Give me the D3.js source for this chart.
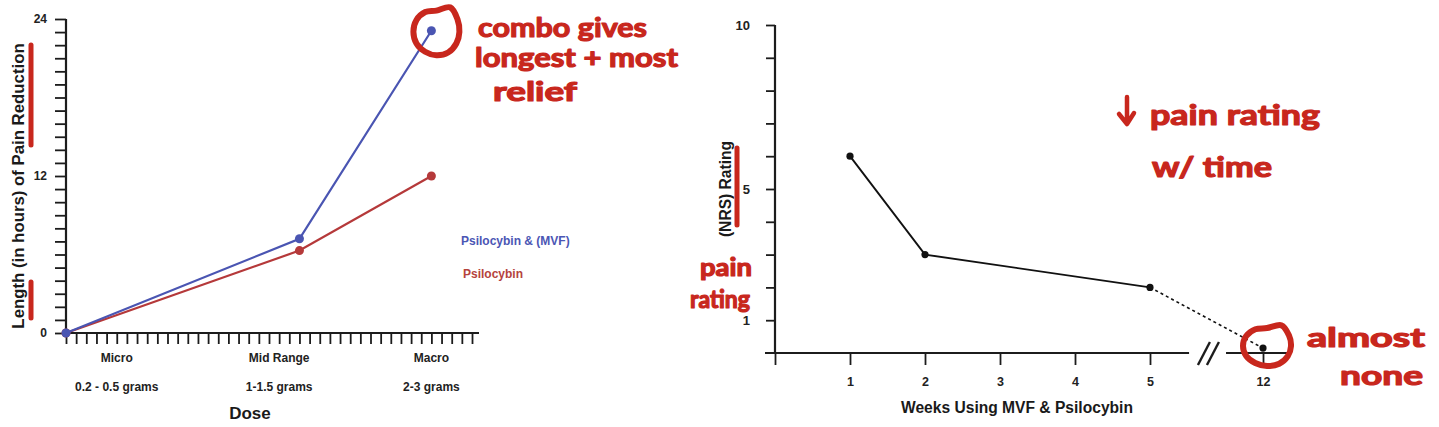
<!DOCTYPE html>
<html>
<head>
<meta charset="utf-8">
<script src="https://cdn.jsdelivr.net/npm/d3@7"></script>
<style>
	html, body { margin: 0; padding: 0; background: #fff; }
	svg { display: block; }
	text { font-family: 'Liberation Sans', Arial, sans-serif; }
	.hand { font-family: Lato, 'Noto Sans', sans-serif; font-weight: 700; fill: #c8271d; stroke: #c8271d; stroke-width: 1.2; stroke-linejoin: round; }
</style>
</head>
<body>
<svg id="canvas" width="1439" height="427"></svg>
<script>
// ---- left chart: dose vs hours of pain reduction ----
let doseNames = ['Micro', 'Mid Range', 'Macro'];
let doseGrams = ['0.2 - 0.5 grams', '1-1.5 grams', '2-3 grams'];
let doseLabelSteps = [5, 21, 36]; // where the category labels sit on the minor-tick axis
let dosePointSteps = [0, 23, 36];
let comboHours = [0, 7.2, 23.1];
let psilocybinHours = [0, 6.3, 12];
let hourTickLabels = [0, 12, 24];
let seriesNames = ['Psilocybin & (MVF)', 'Psilocybin'];

// ---- right chart: NRS pain rating over weeks ----
let weeks = [1, 2, 5, 12];
let nrsRating = [6, 3, 2, 0.15];
let weekTicks = [1, 2, 3, 4, 5, 12];
let ratingTickLabels = [1, 5, 10];

// ---- handwritten notes ----
let noteCombo = ['combo gives', 'longest + most', 'relief'];
let notePain = ['pain rating', 'w/ time'];
let noteAxis = ['pain', 'rating'];
let noteNone = ['almost', 'none'];

let canvas = d3.select('#canvas');
let axisColor = '#1c1c1c';
let blue = '#4a55b2';
let red = '#b5393a';
let marker = '#c8271d';

let styleAxis = (g, fontSize) => {
	g.selectAll('path.domain').remove();
	g.selectAll('line').attr('stroke', axisColor).attr('stroke-width', 1.8);
	g.selectAll('text')
		.attr('fill', '#222')
		.style('font-size', fontSize + 'px')
		.style('font-weight', 'bold')
		.style('font-family', "'Liberation Sans', Arial, sans-serif");
};

// ================= LEFT =================
let xDose = d3.scaleLinear().domain([0, 40]).range([66, 472]);
let yHours = d3.scaleLinear().domain([0, 24]).range([333, 19]);

let left = canvas.append('g');

left.append('g')
	.attr('transform', 'translate(' + xDose(0) + ',0)')
	.call(d3.axisLeft(yHours)
		.tickValues(d3.range(0, 25))
		.tickSize(11)
		.tickPadding(8)
		.tickFormat((d) => (hourTickLabels.includes(d) ? d : '')))
	.call((g) => styleAxis(g, 12));

left.append('g')
	.attr('transform', 'translate(0,' + yHours(0) + ')')
	.call(d3.axisBottom(xDose)
		.tickValues(d3.range(0, 41))
		.tickSize(11)
		.tickFormat(''))
	.call((g) => styleAxis(g, 12));

// axis lines
left.append('path')
	.attr('d', 'M' + xDose(0) + ',' + yHours(24) + 'V' + yHours(0) + 'H' + (xDose(40) + 7))
	.attr('fill', 'none')
	.attr('stroke', axisColor)
	.attr('stroke-width', 2.2);

left.selectAll('text.dose-name')
	.data(doseNames)
	.enter()
	.append('text')
	.attr('class', 'dose-name')
	.attr('x', (d, i) => xDose(doseLabelSteps[i]))
	.attr('y', yHours(0) + 29)
	.attr('text-anchor', 'middle')
	.attr('fill', '#222')
	.style('font-size', '12px')
	.style('font-weight', 'bold')
	.text((d) => d);

left.selectAll('text.dose-grams')
	.data(doseGrams)
	.enter()
	.append('text')
	.attr('class', 'dose-grams')
	.attr('x', (d, i) => xDose(doseLabelSteps[i]))
	.attr('y', yHours(0) + 58)
	.attr('text-anchor', 'middle')
	.attr('fill', '#222')
	.style('font-size', '12px')
	.style('font-weight', 'bold')
	.text((d) => d);

left.append('text')
	.attr('x', 250)
	.attr('y', 419)
	.attr('text-anchor', 'middle')
	.attr('fill', '#1a1a1a')
	.style('font-size', '17px')
	.style('font-weight', 'bold')
	.text('Dose');

left.append('text')
	.attr('transform', 'translate(18.5,' + (yHours(0) + yHours(24) + 20) / 2 + ') rotate(-90)')
	.attr('text-anchor', 'middle')
	.attr('dy', '0.35em')
	.attr('fill', '#1a1a1a')
	.style('font-size', '16.8px')
	.style('font-weight', 'bold')
	.text('Length (in hours) of Pain Reduction');

let doseLine = d3.line()
	.x((d, i) => xDose(dosePointSteps[i]))
	.y((d) => yHours(d));

[[psilocybinHours, red], [comboHours, blue]].forEach(([values, color]) => {
	left.append('path')
		.datum(values)
		.attr('d', doseLine)
		.attr('fill', 'none')
		.attr('stroke', color)
		.attr('stroke-width', 2.2);
	left.selectAll(null)
		.data(values)
		.enter()
		.append('circle')
		.attr('cx', (d, i) => xDose(dosePointSteps[i]))
		.attr('cy', (d) => yHours(d))
		.attr('r', 4.5)
		.attr('fill', color);
});

left.selectAll('text.legend')
	.data(seriesNames)
	.enter()
	.append('text')
	.attr('class', 'legend')
	.attr('x', (d, i) => 461 + i * 2)
	.attr('y', (d, i) => 245 + i * 33)
	.attr('fill', (d, i) => (i === 0 ? '#4b56b4' : '#b5433d'))
	.style('font-size', '12px')
	.style('font-weight', 'bold')
	.text((d) => d);

// ================= RIGHT =================
let xWeek = d3.scaleLinear().domain([0, 5, 12]).range([775, 1150, 1263]);
let yRating = d3.scaleLinear().domain([0, 10]).range([353, 25]);

let right = canvas.append('g');

right.append('g')
	.attr('transform', 'translate(' + xWeek(0) + ',0)')
	.call(d3.axisLeft(yRating)
		.tickValues(d3.range(1, 11))
		.tickSize(9)
		.tickPadding(16)
		.tickFormat((d) => (ratingTickLabels.includes(d) ? d : '')))
	.call((g) => styleAxis(g, 13));

right.append('g')
	.attr('transform', 'translate(0,' + yRating(0) + ')')
	.call(d3.axisBottom(xWeek)
		.tickValues([0].concat(weekTicks))
		.tickSize(12)
		.tickPadding(12)
		.tickFormat((d) => (d === 0 ? '' : d)))
	.call((g) => styleAxis(g, 12.5));

// axis lines with a break before week 12
right.append('path')
	.attr('d',
		'M' + xWeek(0) + ',' + yRating(10) + 'V' + yRating(0) +
		'M' + (xWeek(0) - 10) + ',' + yRating(0) + 'H' + xWeek(7.42) +
		'M' + xWeek(9.71) + ',' + yRating(0) + 'H' + xWeek(13.5))
	.attr('fill', 'none')
	.attr('stroke', axisColor)
	.attr('stroke-width', 2.2);

[-4.5, 4.5].forEach((off) => {
	let bx = xWeek(8.62) + off;
	right.append('line')
		.attr('x1', bx + 6).attr('y1', yRating(0) - 11)
		.attr('x2', bx - 6).attr('y2', yRating(0) + 12)
		.attr('stroke', axisColor)
		.attr('stroke-width', 2.4);
});

right.append('text')
	.attr('x', 1017)
	.attr('y', 413)
	.attr('text-anchor', 'middle')
	.attr('fill', '#1a1a1a')
	.style('font-size', '15.6px')
	.style('font-weight', 'bold')
	.text('Weeks Using MVF & Psilocybin');

right.append('text')
	.attr('transform', 'translate(725.5,' + yRating(5) + ') rotate(-90)')
	.attr('text-anchor', 'middle')
	.attr('dy', '0.35em')
	.attr('fill', '#1a1a1a')
	.style('font-size', '15.6px')
	.style('font-weight', 'bold')
	.text('(NRS) Rating');

let weekLine = d3.line()
	.x((d, i) => xWeek(weeks[i]))
	.y((d) => yRating(d));

right.append('path')
	.datum(nrsRating.slice(0, 3))
	.attr('d', weekLine)
	.attr('fill', 'none')
	.attr('stroke', '#111')
	.attr('stroke-width', 1.9);

right.append('path')
	.attr('d', 'M' + xWeek(weeks[2]) + ',' + yRating(nrsRating[2]) + 'L' + xWeek(weeks[3]) + ',' + yRating(nrsRating[3]))
	.attr('fill', 'none')
	.attr('stroke', '#111')
	.attr('stroke-width', 1.6)
	.attr('stroke-dasharray', '3,3');

right.selectAll(null)
	.data(nrsRating)
	.enter()
	.append('circle')
	.attr('cx', (d, i) => xWeek(weeks[i]))
	.attr('cy', (d) => yRating(d))
	.attr('r', 3.6)
	.attr('fill', '#111');

// ================= HANDWRITTEN NOTES =================
let notes = canvas.append('g');

let scribble = (cx, cy, rx, ry, factors) => {
	let pts = factors.map((f, i) => {
		let a = (i / factors.length) * Math.PI * 2;
		return [cx + rx * f * Math.cos(a), cy + ry * f * Math.sin(a)];
	});
	return d3.line().curve(d3.curveCardinalClosed)(pts);
};

let ringFactors = [1, 1, 1.02, 1, 0.98, 1, 1, 1, 0.97, 0.9, 1.2, 1.06];

notes.append('path')
	.attr('d', scribble(xDose(dosePointSteps[2]) + 5, yHours(comboHours[2]) + 1, 23, 23.5, ringFactors))
	.attr('fill', 'none')
	.attr('stroke', marker)
	.attr('stroke-width', 6);

notes.append('path')
	.attr('d', scribble(xWeek(weeks[3]) + 4, yRating(nrsRating[3]) - 2, 24, 20, ringFactors))
	.attr('fill', 'none')
	.attr('stroke', marker)
	.attr('stroke-width', 6);

// underline strokes beside the axis titles
[[31, 45, 145], [31, 282, 318], [737, 148, 225]].forEach(([x, y1, y2]) => {
	notes.append('line')
		.attr('x1', x).attr('y1', y1)
		.attr('x2', x).attr('y2', y2)
		.attr('stroke', marker)
		.attr('stroke-width', 5)
		.attr('stroke-linecap', 'round');
});

// down arrow
notes.append('path')
	.attr('d', 'M1127,97V123M1119,114L1127,124L1134,113')
	.attr('fill', 'none')
	.attr('stroke', marker)
	.attr('stroke-width', 4.5)
	.attr('stroke-linecap', 'round')
	.attr('stroke-linejoin', 'round');

let writeNote = (lines, xs, ys, widths, size) => {
	notes.selectAll(null)
		.data(lines)
		.enter()
		.append('text')
		.attr('class', 'hand')
		.attr('x', (d, i) => xs[i])
		.attr('y', (d, i) => ys[i])
		.attr('textLength', (d, i) => widths[i])
		.attr('lengthAdjust', 'spacingAndGlyphs')
		.style('font-size', size + 'px')
		.text((d) => d);
};

writeNote(noteCombo, [478, 475, 493], [37, 67, 101], [169, 203, 84], 27);
writeNote(notePain, [1150, 1152], [125, 177], [170, 120], 28);
writeNote(noteAxis, [700, 690], [276, 308], [52, 60], 24);
writeNote(noteNone, [1307, 1340], [347, 385], [118, 83], 26);
</script>
</body>
</html>
